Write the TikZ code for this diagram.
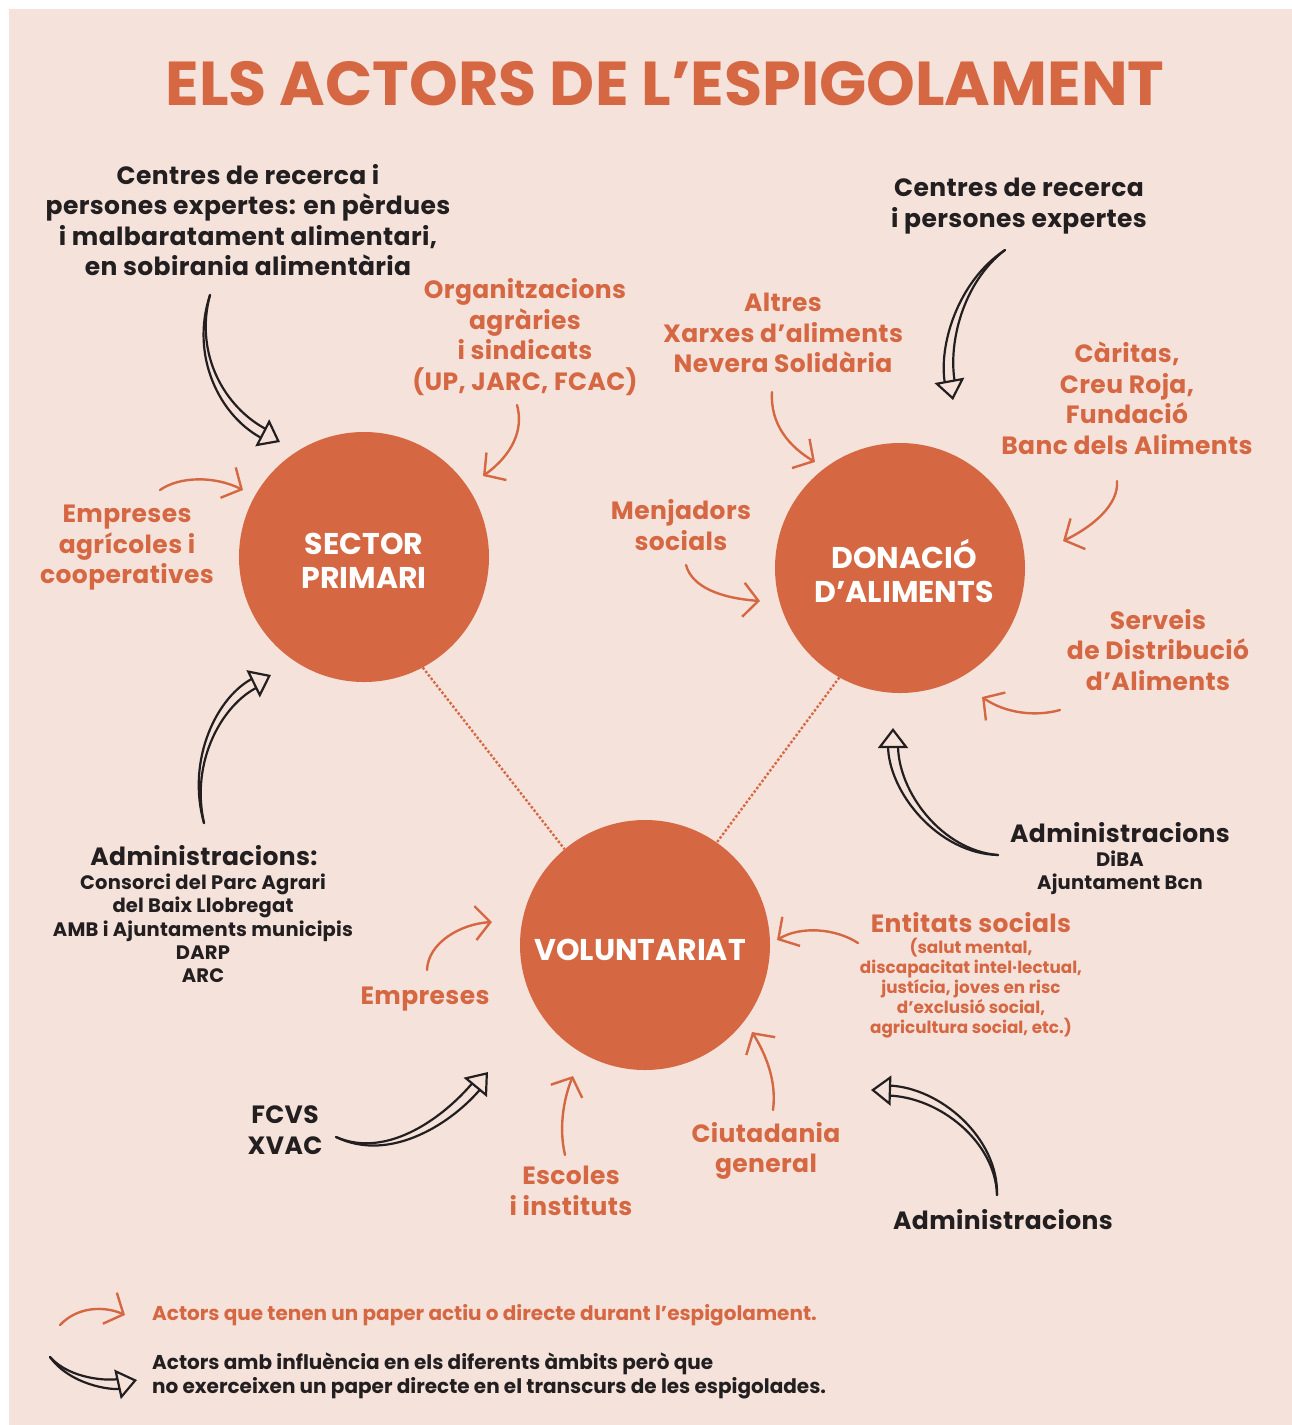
\documentclass[tikz,border=0pt]{standalone}
\usepackage{fontspec}
\setmainfont{Poppins}
\usetikzlibrary{arrows.meta,calc}
\definecolor{bgc}{HTML}{F5E3DB}
\definecolor{orc}{HTML}{D56743}
\definecolor{dkc}{HTML}{231F20}
% tapered hollow arrow: start, control 1, control 2, end
\newcommand\hollowarr[4]{%
  \coordinate (hbase) at ($(#4)!17pt!(#3)$);
  \draw[hline] (#1) .. controls ($(#2)!2.5pt!90:(#3)$) and ($(#3)!5pt!90:(#4)$) .. ($(hbase)!5pt!90:(#4)$);
  \draw[hline] (#1) .. controls ($(#2)!2.5pt!-90:(#3)$) and ($(#3)!5pt!-90:(#4)$) .. ($(hbase)!5pt!-90:(#4)$);
  \draw[hhead] (hbase) -- (#4);}
\begin{document}
\begin{tikzpicture}[x=1pt,y=-1pt,
  big/.style={circle, fill=orc, minimum size=250pt, inner sep=0pt},
  ctext/.style={text=white, align=center, inner sep=0pt, font=\bfseries\fontsize{30}{34}\selectfont},
  olab/.style={text=orc, align=center, inner sep=0pt, font=\bfseries\fontsize{25}{30.5}\selectfont\addfontfeatures{LetterSpace=1.5}},
  dlab/.style={olab, text=dkc},
  dsmall/.style={dlab, font=\bfseries\fontsize{19.5}{23.3}\selectfont\addfontfeatures{LetterSpace=1}},
  osmall/.style={olab, font=\bfseries\fontsize{16.8}{20}\selectfont},
  lego/.style={olab, anchor=west, align=left, font=\bfseries\fontsize{20}{24}\selectfont},
  legd/.style={lego, text=dkc},
  oarr/.style={draw=orc, line width=2.4pt, line cap=round,
     -{Straight Barb[length=15pt,width=34pt,line width=2.4pt]}},
  hline/.style={draw=dkc, line width=2.2pt, line cap=round},
  hhead/.style={draw=bgc, line width=0.1pt,
     -{Triangle[length=20pt,width=30pt,fill=bgc,color=dkc,line width=2.2pt]}},
  dotl/.style={draw=orc, line width=2.4pt, dotted}]
\useasboundingbox (0,0) rectangle (1292,1425);
\fill[white] (0,0) rectangle (1292,1425);
\fill[bgc] (9,9) rectangle (1292,1425);

% title
\node[text=orc, inner sep=0pt, font=\bfseries\fontsize{62}{62}\selectfont] (title) at (665,84) {ELS ACTORS DE L’ESPIGOLAMENT};

% circles
\node[big] (sp) at (364,557) {};
\node[big] (da) at (900,568) {};
\node[big] (vol) at (645,945) {};
\node[ctext] (spt) at (364,561) {SECTOR\\PRIMARI};
\node[ctext] (dat) at (904,571) {DONACIÓ\\D’ALIMENTS};
\node[ctext] (volt) at (640,950) {VOLUNTARIAT};

\draw[dotl] (sp.-62) -- (vol.130);
\draw[dotl] (da.-119) -- (vol.55);

% labels
\node[dlab] (ctl) at (248,220) {Centres de recerca i\\persones expertes: en pèrdues\\i malbaratament alimentari,\\en sobirania alimentària};
\node[olab] (org) at (525,337) {Organitzacions\\agràries\\i sindicats\\(UP, JARC, FCAC)};
\node[olab] (alt) at (783,333) {Altres\\Xarxes d’aliments\\Nevera Solidària};
\node[dlab] (ctr) at (1019,206) {Centres de recerca\\i persones expertes};
\node[olab] (car) at (1127,398) {Càritas,\\Creu Roja,\\Fundació\\Banc dels Aliments};
\node[olab] (eag) at (127,548) {Empreses\\agrícoles i\\cooperatives};
\node[olab] (men) at (681,525) {Menjadors\\socials};
\node[olab] (ser) at (1158,650) {Serveis\\de Distribució\\d’Aliments};
\node[dlab] (adr) at (1120,833) {Administracions};
\node[dsmall] (adrs) at (1120,873) {DiBA\\Ajuntament Bcn};
\node[dlab] (adl) at (204,856) {Administracions:};
\node[dsmall] (adls) at (203,928.5) {Consorci del Parc Agrari\\del Baix Llobregat\\AMB i Ajuntaments municipis\\DARP\\ARC};
\node[olab] (ent) at (971,923) {Entitats socials};
\node[osmall] (ents) at (971,988) {(salut mental,\\discapacitat intel·lectual,\\justícia, joves en risc\\d’exclusió social,\\agricultura social, etc.)};
\node[olab] (emp) at (425,999) {Empreses};
\node[dlab] (fcv) at (285,1130) {FCVS\\XVAC};
\node[olab] (esc) at (571,1191) {Escoles\\i instituts};
\node[olab] (ciu) at (766,1151) {Ciutadania\\general};
\node[dlab] (adb) at (1003,1220) {Administracions};

% legend
\node[lego] (lg1) at (152,1315) {Actors que tenen un paper actiu o directe durant l’espigolament.};
\node[legd] (lg2) at (152,1376) {Actors amb influència en els diferents àmbits però que\\no exerceixen un paper directe en el transcurs de les espigolades.};

% orange arrow end points
\coordinate (o1s) at (517,405); \coordinate (o1e) at (483,476);
\coordinate (o2s) at (160,490); \coordinate (o2e) at (243,490);
\coordinate (o3s) at (772,392); \coordinate (o3e) at (815,462);
\coordinate (o4s) at (1117,481); \coordinate (o4e) at (1063,541);
\coordinate (o5s) at (686,565); \coordinate (o5e) at (760,601);
\coordinate (o6s) at (1060,710); \coordinate (o6e) at (982,697);
\coordinate (o7s) at (858,943); \coordinate (o7e) at (777,940);
\coordinate (o8s) at (427,970); \coordinate (o8e) at (492,922);
\coordinate (o9s) at (565,1155); \coordinate (o9e) at (573,1076);
\coordinate (o10s) at (773,1110); \coordinate (o10e) at (752,1032);
\coordinate (o11s) at (60,1325); \coordinate (o11e) at (125,1315);

\draw[oarr] (o1s) .. controls (524,430) and (512,455) .. (o1e);
\draw[oarr] (o2s) .. controls (180,476) and (215,476) .. (o2e);
\draw[oarr] (o3s) .. controls (770,425) and (790,447) .. (o3e);
\draw[oarr] (o4s) .. controls (1119,505) and (1092,527) .. (o4e);
\draw[oarr] (o5s) .. controls (692,587) and (720,598) .. (o5e);
\draw[oarr] (o6s) .. controls (1035,717) and (1005,713) .. (o6e);
\draw[oarr] (o7s) .. controls (835,928) and (800,926) .. (o7e);
\draw[oarr] (o8s) .. controls (428,943) and (460,924) .. (o8e);
\draw[oarr] (o9s) .. controls (558,1125) and (565,1095) .. (o9e);
\draw[oarr] (o10s) .. controls (777,1080) and (765,1053) .. (o10e);
\draw[oarr] (o11s) .. controls (78,1306) and (105,1306) .. (o11e);

% hollow arrows
\coordinate (hAs) at (210,295); \coordinate (hAe) at (280,442);
\coordinate (hBs) at (1005,250); \coordinate (hBe) at (953,400);
\coordinate (hCs) at (204,823); \coordinate (hCe) at (271,675);
\coordinate (hDs) at (998,855); \coordinate (hDe) at (893,728);
\coordinate (hEs) at (336,1137); \coordinate (hEe) at (488,1072);
\coordinate (hFs) at (997,1195); \coordinate (hFe) at (871,1090);
\coordinate (hGs) at (50,1357); \coordinate (hGe) at (137,1380);

\hollowarr{hAs}{192,355}{222,412}{hAe}
\hollowarr{hBs}{960,282}{943,345}{hBe}
\hollowarr{hCs}{188,760}{220,700}{hCe}
\hollowarr{hDs}{940,852}{893,792}{hDe}
\hollowarr{hEs}{390,1162}{450,1118}{hEe}
\hollowarr{hFs}{997,1140}{940,1092}{hFe}
\hollowarr{hGs}{70,1382}{110,1386}{hGe}
\end{tikzpicture}
\end{document}
